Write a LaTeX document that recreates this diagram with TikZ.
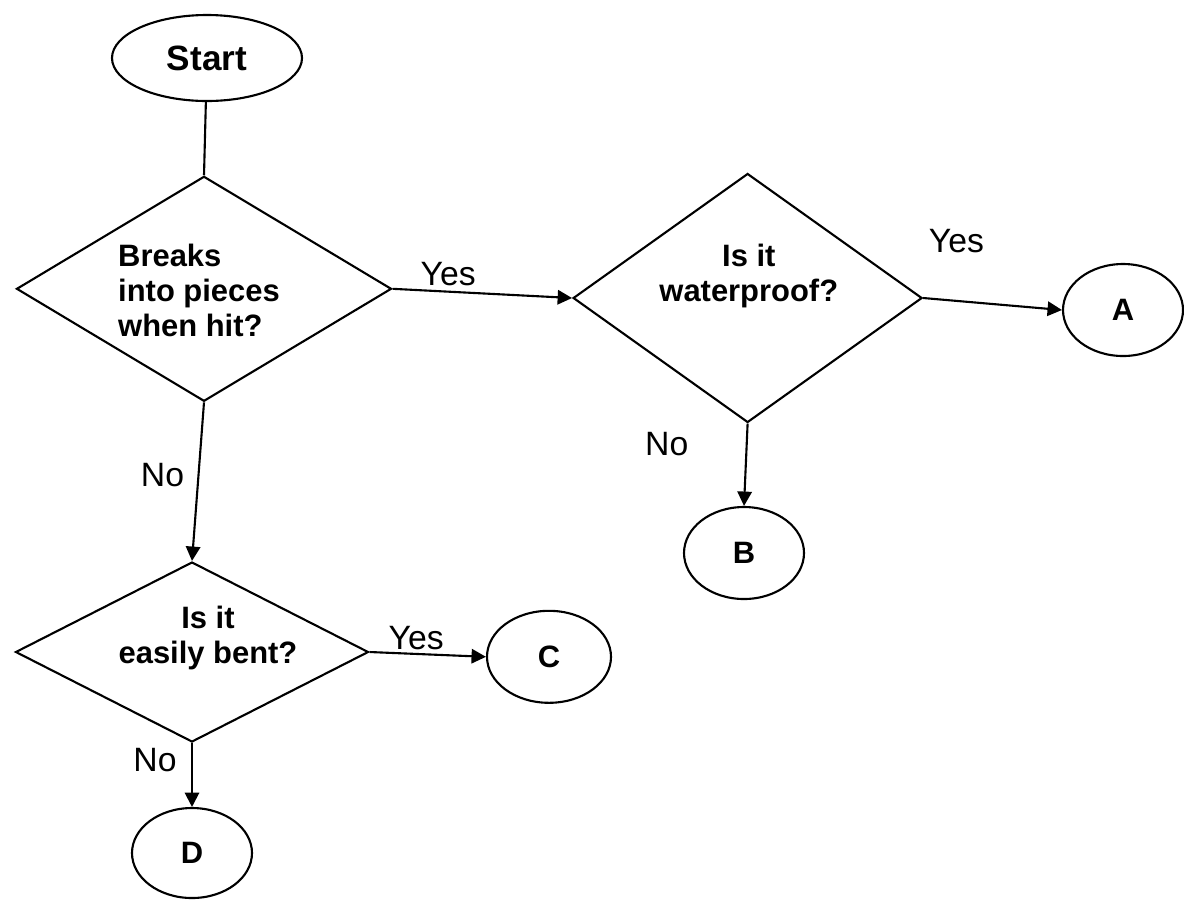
\documentclass[tikz,border=0pt]{standalone}
\usepackage{fontspec}
\setmainfont{Liberation Sans}
\usepackage{tikz}
\usetikzlibrary{arrows.meta,positioning,shapes}
\tikzset{
  terminal/.style={draw=black,ellipse,line width=1.5pt,
                   minimum width=3.0cm,minimum height=2.3cm,
                   inner sep=0pt,font=\fontsize{22}{26}\selectfont\bfseries},
  decision/.style={draw=black,diamond,line width=1.5pt,inner sep=0pt},
  qtext/.style={align=center,inner sep=0pt,
                font=\fontsize{22}{25}\selectfont\bfseries},
  answer/.style={inner sep=0pt,font=\fontsize{24}{28}\selectfont},
  flowarr/.style={-{Triangle[length=3.6mm,width=3.6mm]},line width=1.5pt}
}

\begin{document}
\begin{tikzpicture}
  \useasboundingbox (0,0) rectangle (29.6,-22.475);

  \node[terminal,minimum width=4.75cm,minimum height=2.15cm,
        font=\fontsize{25}{30}\selectfont\bfseries] (start) at (5.175,-1.45) {Start};

  \node[decision,minimum width=9.375cm,minimum height=5.625cm] (breaks) at (5.1,-7.22) {};
  \node[qtext,align=left] (breakstxt) at (4.975,-7.26) {Breaks\\into pieces\\when hit?};
  \node[decision,minimum width=8.725cm,minimum height=6.225cm] (waterproof) at (18.69,-7.45) {};
  \node[qtext] (waterprooftxt) at (18.72,-6.91) {Is it\\waterproof?};
  \node[decision,minimum width=8.825cm,minimum height=4.5cm] (bent) at (4.8,-16.3) {};
  \node[qtext] (benttxt) at (5.2,-15.95) {Is it\\easily bent?};

  \node[terminal] (A) at (28.075,-7.75) {A};
  \node[terminal] (B) at (18.6,-13.825) {B};
  \node[terminal,minimum width=3.1cm] (C) at (13.725,-16.42) {C};
  \node[terminal,minimum height=2.25cm] (D) at (4.8,-21.325) {D};

  % yes goes right, no goes down
  \draw[line width=1.5pt] (start) -- (breaks.north);
  \draw[flowarr] (breaks.east) -- node[answer,pos=0.31,yshift=0.45cm] (yes1) {Yes} (waterproof.west);
  \draw[flowarr] (waterproof.east) -- node[answer,pos=0.24,yshift=1.5cm] (yes2) {Yes} (A.west);
  \draw[flowarr] (waterproof.south) -- node[answer,pos=0.25,xshift=-2cm] (no2) {No} (B.north);
  \draw[flowarr] (breaks.south) -- node[answer,pos=0.46,xshift=-0.9cm] (no1) {No} (bent.north);
  \draw[flowarr] (bent.east) -- node[answer,pos=0.4,yshift=0.4cm] (yes3) {Yes} (C.west);
  \draw[flowarr] (bent.south) -- node[answer,pos=0.26,xshift=-0.925cm] (no3) {No} (D.north);
\end{tikzpicture}
\end{document}
